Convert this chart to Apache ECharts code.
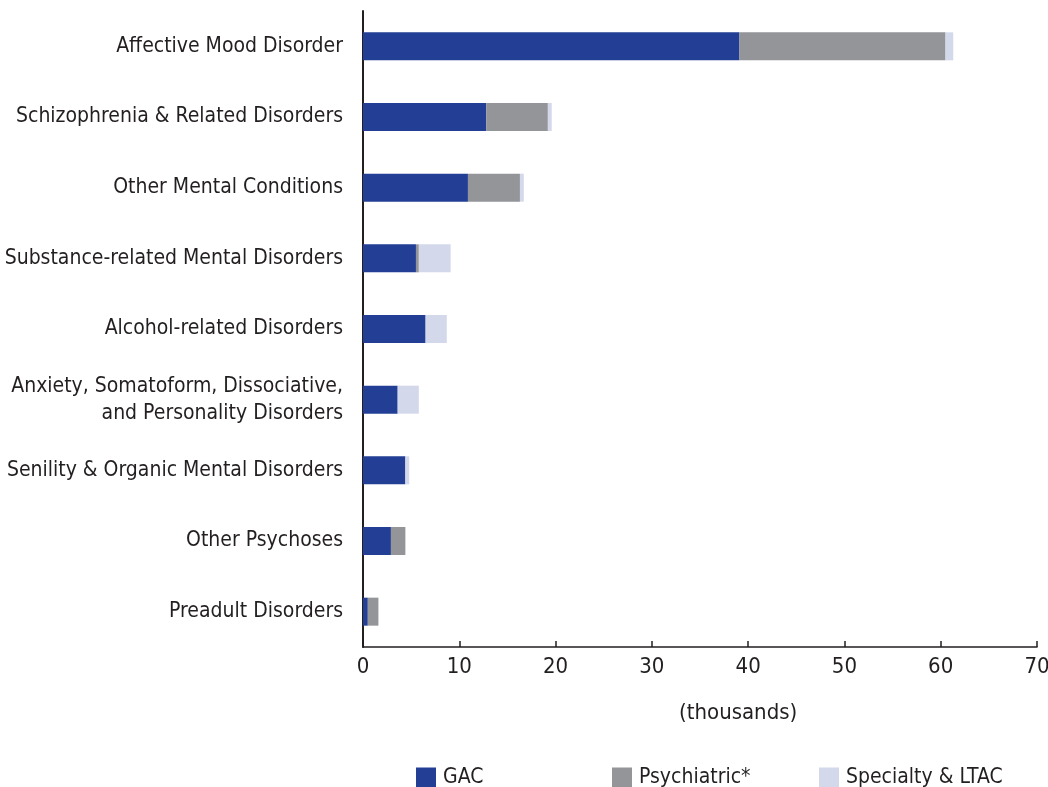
<!DOCTYPE html>
<html>
<head>
<meta charset="utf-8">
<script src="https://cdn.jsdelivr.net/npm/echarts@6/dist/echarts.min.js"></script>
<style>html,body{margin:0;padding:0;background:#fff}#c{width:1048px;height:787px}</style>
</head>
<body>
<div id="c"></div>
<script>
const categories = [
  "Affective Mood Disorder",
  "Schizophrenia & Related Disorders",
  "Other Mental Conditions",
  "Substance-related Mental Disorders",
  "Alcohol-related Disorders",
  "Anxiety, Somatoform, Dissociative,\nand Personality Disorders",
  "Senility & Organic Mental Disorders",
  "Other Psychoses",
  "Preadult Disorders"
];
const gac         = [39.1, 12.8, 10.9, 5.5, 6.5, 3.6, 4.4, 2.9, 0.5];
const psychiatric = [21.4, 6.4, 5.4, 0.3, 0.0, 0.0, 0.0, 1.5, 1.1];
const specialty   = [0.8, 0.4, 0.4, 3.3, 2.2, 2.2, 0.4, 0.0, 0.0];
const seriesNames = ["GAC", "Psychiatric*", "Specialty & LTAC"];
const colors = ["#223F95", "#939598", "#D3D8EB"];
const xTicks = [0, 10, 20, 30, 40, 50, 60, 70];

const FONT = "'Liberation Sans Narrow', 'DejaVu Sans Condensed', sans-serif";
const chart = echarts.init(document.getElementById('c'), null, {renderer: 'canvas'});
const legendLeft = [411, 607, 814];
const option = {
  animation: false,
  textStyle: {fontFamily: FONT, color: '#231F20'},
  grid: {left: 363, right: 11, top: 11, bottom: 140, containLabel: false, outerBoundsMode: 'none'},
  legend: seriesNames.map((n, i) => ({
    data: [n], left: legendLeft[i], top: 762, itemWidth: 20, itemHeight: 20, itemGap: 0,
    icon: 'rect', textStyle: {fontFamily: FONT, fontSize: 21, color: '#231F20', padding: [0,0,0,2]},
    selectedMode: false
  })),
  xAxis: {
    type: 'value', min: xTicks[0], max: xTicks[xTicks.length - 1], interval: 10,
    axisLine: {show: true, lineStyle: {color: '#231F20', width: 1.5}},
    axisTick: {show: true, inside: true, length: 6, lineStyle: {color: '#231F20', width: 1.5}},
    axisLabel: {fontFamily: FONT, fontSize: 22, color: '#231F20', margin: 9},
    splitLine: {show: false}
  },
  yAxis: {
    type: 'category', data: categories, inverse: true,
    axisLine: {show: true, lineStyle: {color: '#231F20', width: 2}},
    axisTick: {show: false},
    axisLabel: {fontFamily: FONT, fontSize: 21, color: '#231F20', margin: 20, lineHeight: 27, align: 'right', padding: [8, 0, 0, 0]}
  },
  graphic: [{
    type: 'text', left: 679, top: 702,
    style: {text: '(thousands)', fontFamily: FONT, fontSize: 22, fill: '#231F20', textAlign: 'center'}
  }],
  series: [gac, psychiatric, specialty].map((d, i) => ({
    name: seriesNames[i], type: 'bar', stack: 'total', data: d, barWidth: 28,
    itemStyle: {color: colors[i]}
  }))
};
chart.setOption(option);
</script>
</body>
</html>
